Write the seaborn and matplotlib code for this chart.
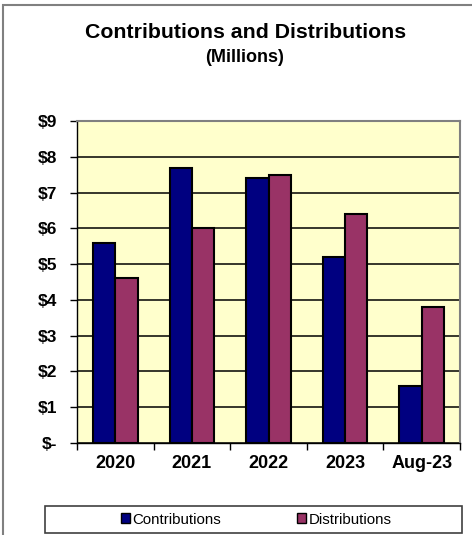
import matplotlib
matplotlib.use("Agg")
import matplotlib.pyplot as plt
from matplotlib.patches import Rectangle
from matplotlib.ticker import MultipleLocator
import pandas as pd
import seaborn as sns

# Data (millions of dollars)
periods = ["2020", "2021", "2022", "2023", "Aug-23"]
contributions = [5.6, 7.7, 7.4, 5.2, 1.6]
distributions = [4.6, 6.0, 7.5, 6.4, 3.8]
series_names = ["Contributions", "Distributions"]
y_ticks = [0, 1, 2, 3, 4, 5, 6, 7, 8, 9]
y_tick_labels = ["$-", "$1", "$2", "$3", "$4", "$5", "$6", "$7", "$8", "$9"]

df = pd.DataFrame({
    "period": periods * 2,
    "value": contributions + distributions,
    "series": [series_names[0]] * len(periods) + [series_names[1]] * len(periods),
})

sns.set_theme(style="white")
plt.rcParams["font.family"] = ["Liberation Sans", "DejaVu Sans"]
plt.rcParams["text.color"] = "black"
plt.rcParams["xtick.color"] = "black"
plt.rcParams["ytick.color"] = "black"
plt.rcParams["axes.labelcolor"] = "black"

W, H = 472, 535
fig = plt.figure(figsize=(W / 100, H / 100), dpi=100)
fig.patch.set_facecolor("white")

# outer chart frame (runs off the right and bottom edges)
fig.patches.append(Rectangle((3 / W, -0.05), 1.2, 1 - 4.5 / H + 0.05,
                             transform=fig.transFigure, fill=False,
                             edgecolor="#808080", linewidth=1.5))

ax = fig.add_axes([77 / W, 1 - 443 / H, (460 - 77) / W, (443 - 121) / H])
ax.set_facecolor("#FFFFCC")

sns.barplot(data=df, x="period", y="value", hue="series", order=periods,
            hue_order=series_names, palette=["#000080", "#993366"],
            width=0.58, edgecolor="black", linewidth=1.5, saturation=1,
            legend=False, ax=ax, zorder=3)

ax.set_ylim(0, 9)
ax.set_xlim(-0.5, len(periods) - 0.5)
ax.set_yticks(y_ticks)
ax.set_yticklabels(y_tick_labels)
ax.yaxis.grid(True, color="black", linewidth=1.1, zorder=1)
ax.set_axisbelow(True)
ax.set_xlabel("")
ax.set_ylabel("")

for s in ["top", "right"]:
    ax.spines[s].set_color("#808080")
    ax.spines[s].set_linewidth(1.5)
for s in ["left", "bottom"]:
    ax.spines[s].set_color("black")
    ax.spines[s].set_linewidth(1.0)

# category-boundary tick marks on the x-axis
ax.set_xticks([i for i in range(len(periods))])
ax.set_xticklabels(periods)
ax.xaxis.set_minor_locator(MultipleLocator(1, offset=0.5))
ax.tick_params(axis="x", which="major", length=0, pad=9,
               labelsize=13, labelcolor="black")
ax.tick_params(axis="x", which="minor", length=5, width=1, color="black",
               direction="out", bottom=True)
ax.tick_params(axis="y", length=5, width=1, color="black", direction="out",
               left=True, pad=9, labelsize=12.5, labelcolor="black")
for lbl in ax.get_xticklabels() + ax.get_yticklabels():
    lbl.set_fontweight("bold")

fig.text(246 / W, 1 - 33 / H, "Contributions and Distributions",
         ha="center", va="center", fontsize=15.3, fontweight="bold",
         color="black")
fig.text(245 / W, 1 - 57.5 / H, "(Millions)",
         ha="center", va="center", fontsize=13, fontweight="bold",
         color="black")

# legend box
fig.patches.append(Rectangle((45 / W, 1 - 532.5 / H), (462 - 45) / W, 26.5 / H,
                             transform=fig.transFigure, fill=True,
                             facecolor="white", edgecolor="#404040",
                             linewidth=1.2))
handles = [Rectangle((0, 0), 1, 1, facecolor=c, edgecolor="black", linewidth=1)
           for c in ["#000080", "#993366"]]
leg = fig.legend(handles, series_names, loc="center",
                 bbox_to_anchor=(256 / W, 1 - 519.5 / H), ncol=2, frameon=False,
                 fontsize=10.8, handlelength=0.6, handleheight=0.6,
                 handletextpad=0.15, columnspacing=5.1)
for t in leg.get_texts():
    t.set_color("black")

fig.savefig("out.png", dpi=100)
